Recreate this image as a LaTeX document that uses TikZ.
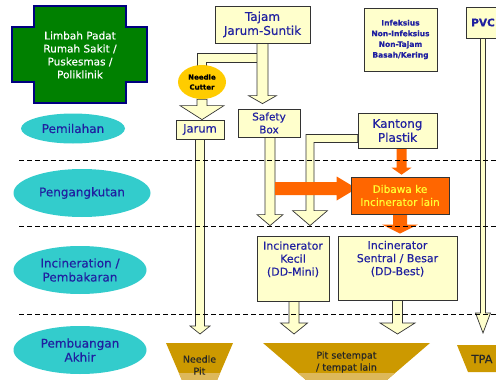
\documentclass[tikz,border=0pt]{standalone}
\usepackage{fontspec}
\setmainfont{DejaVu Sans}[FakeBold=0.4]
\usetikzlibrary{calc,backgrounds,shapes.geometric}

\definecolor{crossgreen}{HTML}{008000}
\definecolor{crossline}{HTML}{000080}
\definecolor{stagecyan}{HTML}{33CCCC}
\definecolor{paleyellow}{HTML}{FFFFCC}
\definecolor{boxline}{HTML}{333333}
\definecolor{labelblue}{HTML}{2020A0}
\definecolor{haulorange}{HTML}{FF6600}
\definecolor{cuttergold}{HTML}{FFCC00}
\definecolor{pitgold}{HTML}{CC9900}
\definecolor{pitlight}{HTML}{DDB85A}
\definecolor{dibawatext}{HTML}{FFFF33}

\tikzset{
  wastebox/.style={draw=boxline, fill=paleyellow, line width=0.8pt, text=labelblue, align=center, inner sep=0pt},
  stage/.style={ellipse, fill=stagecyan, text=labelblue, align=center, inner sep=0pt, font=\fontsize{12}{14}\selectfont},
  flowarrow/.style={draw=boxline, fill=paleyellow, line width=0.7pt},
  haularrow/.style={fill=haulorange},
  pittext/.style={text=black!85, align=center, inner sep=0pt},
  bandline/.style={dash pattern=on 5pt off 3pt, line width=1pt},
}

% block arrows: style, from, tip, half shaft, half head, head length
\newcommand{\downblock}[6]{%
  \path[#1] let \p1=(#2), \p2=(#3) in
    (\x1-#4pt,\y1) -- (\x1-#4pt,\y2+#6pt) -- (\x1-#5pt,\y2+#6pt) -- (\x1,\y2)
    -- (\x1+#5pt,\y2+#6pt) -- (\x1+#4pt,\y2+#6pt) -- (\x1+#4pt,\y1) -- cycle;}
\newcommand{\sideblock}[6]{%
  \path[#1] let \p1=(#2), \p2=(#3) in
    (\x1,\y1+#4pt) -- (\x2-#6pt,\y1+#4pt) -- (\x2-#6pt,\y1+#5pt) -- (\x2,\y1)
    -- (\x2-#6pt,\y1-#5pt) -- (\x2-#6pt,\y1-#4pt) -- (\x1,\y1-#4pt) -- cycle;}
\newcommand{\elbowblock}[6]{%
  \path[#1] let \p1=(#2), \p2=(#3) in
    (\x1,\y1+#4pt) -- (\x2-#4pt,\y1+#4pt) -- (\x2-#4pt,\y2+#6pt) -- (\x2-#5pt,\y2+#6pt)
    -- (\x2,\y2) -- (\x2+#5pt,\y2+#6pt) -- (\x2+#4pt,\y2+#6pt) -- (\x2+#4pt,\y1-#4pt)
    -- (\x1,\y1-#4pt) -- cycle;}

\begin{document}
\begin{tikzpicture}[x=1pt,y=-1pt]
  \useasboundingbox (0,0) rectangle (496,380);
  \clip (0,0) rectangle (496,380);

  % sumber limbah
  \draw[fill=crossgreen, draw=crossline, line width=1.5pt] (34,6) -- (126,6) -- (126,27) -- (147,27)
    -- (147,82) -- (126,82) -- (126,103) -- (34,103) -- (34,82) -- (12,82) -- (12,27) -- (34,27) -- cycle;
  \node[text=white, align=center, font=\fontsize{10.5}{13}\selectfont] (limbah) at (80,55)
    {Limbah Padat\\Rumah Sakit /\\Puskesmas /\\Poliklinik};

  % tahap
  \node[stage, minimum width=104pt, minimum height=30pt] (pemilahan) at (73,128.5) {Pemilahan};
  \node[stage, minimum width=137pt, minimum height=48pt] (pengangkutan) at (82,193) {Pengangkutan};
  \node[stage, minimum width=133pt, minimum height=48pt] (incineration) at (80,270) {Incineration /\\Pembakaran};
  \node[stage, minimum width=133pt, minimum height=48pt] (pembuangan) at (80,350) {Pembuangan\\Akhir};

  % jenis limbah
  \node[wastebox, minimum width=95pt, minimum height=37pt, font=\fontsize{12}{14}\selectfont] (tajam) at (262.5,24.5) {Tajam\\Jarum-Suntik};
  \node[wastebox, minimum width=73pt, minimum height=63pt, font=\bfseries\fontsize{7.5}{10.7}\selectfont] (infeksius) at (400.5,39.5)
    {Infeksius\\Non-Infeksius\\Non-Tajam\\Basah/Kering};
  \node[wastebox, minimum width=34pt, minimum height=31pt, font=\bfseries\fontsize{10.5}{12}\selectfont] (pvc) at (483,22.5) {PVC};

  \node[ellipse, fill=cuttergold, minimum width=48pt, minimum height=34pt, inner sep=0pt, align=center,
    font=\bfseries\fontsize{7}{10}\selectfont] (cutter) at (202,82) {Needle\\Cutter};
  \node[wastebox, minimum width=62pt, minimum height=28pt, font=\fontsize{10.5}{13}\selectfont] (safety) at (269,123) {Safety\\Box};
  \node[wastebox, minimum width=48pt, minimum height=19pt, font=\fontsize{11.5}{13}\selectfont] (jarum) at (200,129.5) {Jarum};
  \node[wastebox, minimum width=79pt, minimum height=35pt, font=\fontsize{12}{14}\selectfont] (kantong) at (397.5,130.5) {Kantong\\Plastik};

  \node[fill=haulorange, draw=boxline, line width=0.6pt, minimum width=98pt, minimum height=37pt, text=dibawatext,
    align=center, inner sep=0pt, font=\fontsize{10.5}{13}\selectfont] (dibawa) at (400,195.5) {Dibawa ke\\Incinerator lain};

  \node[wastebox, minimum width=72pt, minimum height=65pt, text depth=20pt, font=\fontsize{11}{13}\selectfont] (kecil) at (293,268.5)
    {Incinerator\\Kecil\\(DD-Mini)};
  \node[wastebox, minimum width=119pt, minimum height=64pt, text depth=20pt, font=\fontsize{11}{13}\selectfont] (sentral) at (397.5,268)
    {Incinerator\\Sentral / Besar\\(DD-Best)};

  % pembuangan akhir
  \begin{scope}
    \clip (166,343) -- (233,343) -- (212,392) -- (187,392) -- cycle;
    \fill[pitgold] (150,340) rectangle (250,392);
    \fill[pitlight] (150,373) rectangle (250,392);
  \end{scope}
  \begin{scope}
    \clip (263,343) -- (430,343) -- (373,392) -- (320,392) -- cycle;
    \fill[pitgold] (250,340) rectangle (440,392);
    \fill[pitlight] (250,373) rectangle (440,392);
  \end{scope}
  \fill[pitgold] (457,345) -- (510,345) -- (500,372) -- (468,372) -- cycle;
  \coordinate (needletop) at (199.5,343);
  \coordinate (pittop) at (346.5,343);
  \coordinate (tpatop) at (483,345);
  \node[pittext, font=\fontsize{9.5}{12}\selectfont] (needlepit) at (199.5,365) {Needle\\Pit};
  \node[pittext, font=\fontsize{9.5}{12}\selectfont] (pitsetempat) at (346.5,362) {Pit setempat\\/ tempat lain};
  \node[pittext, font=\fontsize{11.5}{13}\selectfont] (tpa) at (482,359) {TPA};

  % alur
  \coordinate[xshift=6pt, yshift=7pt] (haulstart) at (safety.south |- dibawa.west);
  \coordinate[xshift=6pt, yshift=7pt] (haulend) at (dibawa.west);
  \begin{pgfonlayer}{background}
    \elbowblock{flowarrow}{[xshift=-5pt,yshift=-14.5pt]tajam.south}{[yshift=-4pt]cutter.north}{4.5}{4.5}{0}
    \downblock{flowarrow}{tajam.south}{[yshift=5pt]safety.north}{5.5}{14}{8}
    \downblock{flowarrow}{cutter.south}{jarum.north}{5}{22}{14}
    \downblock{flowarrow}{jarum.south}{[yshift=9pt]needletop}{4.5}{10}{8}
    \downblock{flowarrow}{[xshift=1pt]safety.south}{[yshift=10pt]kecil.north}{5}{13}{11}
    \elbowblock{flowarrow}{[yshift=-8pt]kantong.west}{[xshift=17pt,yshift=10pt]kecil.north}{4}{17.5}{15}
    \downblock{flowarrow}{[xshift=1pt]kecil.south}{[yshift=9pt]pittop}{5}{13.5}{11}
    \downblock{flowarrow}{sentral.south}{[yshift=9pt]pittop}{5}{17.5}{11}
    \downblock{flowarrow}{pvc.south}{[yshift=12pt]tpatop}{2.5}{7.5}{20}
    \downblock{haularrow}{[xshift=4pt]kantong.south}{[yshift=2pt]dibawa.north}{5}{10}{7}
    \downblock{haularrow}{dibawa.south}{[yshift=2pt]sentral.north}{7}{18}{9}
    \sideblock{haularrow}{haulstart}{haulend}{6.5}{12}{20}
  \end{pgfonlayer}

  % batas tahap
  \foreach \y in {160,226,314}
    \draw[bandline] (19,\y) -- (496,\y);
\end{tikzpicture}
\end{document}
